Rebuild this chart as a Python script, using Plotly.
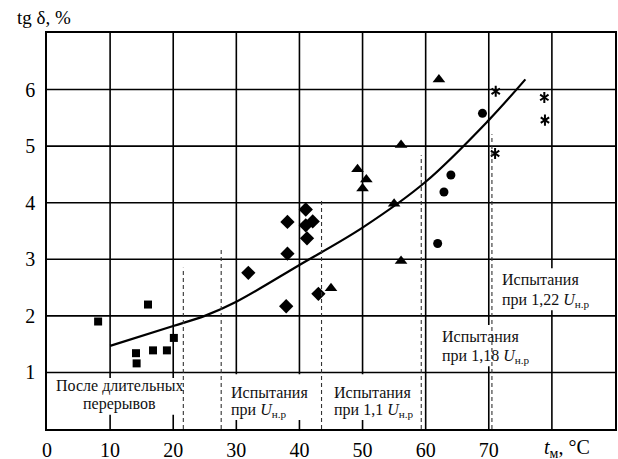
import plotly.graph_objects as go

# --- data ---
sq_x = [8.1, 16.0, 14.1, 14.2, 16.8, 19.0, 20.1]
sq_y = [1.90, 2.20, 1.34, 1.16, 1.39, 1.39, 1.61]

dm_x = [31.9, 37.9, 38.1, 38.1, 41.0, 42.1, 41.0, 41.2, 43.0]
dm_y = [2.76, 2.17, 3.10, 3.66, 3.88, 3.67, 3.60, 3.37, 2.39]

tr_x = [45.0, 49.2, 50.6, 50.0, 55.0, 56.1, 56.1, 62.1]
tr_y = [2.49, 4.59, 4.41, 4.25, 3.98, 5.02, 2.97, 6.18]

ci_x = [61.9, 62.9, 64.0, 69.0]
ci_y = [3.28, 4.19, 4.49, 5.58]

st_x = [71.1, 71.0, 78.8, 78.9]
st_y = [5.97, 4.87, 5.86, 5.46]

curve_x = [10, 20, 25, 30, 40, 50, 60, 70, 75.8]
curve_y = [1.47, 1.82, 2.0, 2.25, 2.90, 3.56, 4.37, 5.46, 6.18]

# dashed boundaries: x position and top value
dash_x = [21.6, 27.6, 43.5, 59.3, 70.5]
dash_top = [2.85, 3.2, 4.06, 4.84, 5.21]

x_ticks = [0, 10, 20, 30, 40, 50, 60, 70]
y_ticks = [1, 2, 3, 4, 5, 6]
x_grid = [10, 20, 30, 40, 50, 60, 70, 80]
y_grid = [1, 2, 3, 4, 5, 6]

FONT = "Liberation Serif"

fig = go.Figure()

mk = dict(color="black")
fig.add_trace(go.Scatter(x=curve_x, y=curve_y, mode="lines",
                         line=dict(color="black", width=2.2, shape="spline"),
                         showlegend=False, hoverinfo="skip"))
fig.add_trace(go.Scatter(x=sq_x, y=sq_y, mode="markers",
                         marker=dict(symbol="square", size=8, **mk), showlegend=False))
fig.add_trace(go.Scatter(x=dm_x, y=dm_y, mode="markers",
                         marker=dict(symbol="diamond", size=11, **mk), showlegend=False))
fig.add_trace(go.Scatter(x=tr_x, y=tr_y, mode="markers",
                         marker=dict(symbol="triangle-up", size=11, **mk), showlegend=False))
fig.add_trace(go.Scatter(x=ci_x, y=ci_y, mode="markers",
                         marker=dict(symbol="circle", size=9, **mk), showlegend=False))
for sym in ["y-up-open", "y-down-open"]:
    fig.add_trace(go.Scatter(x=st_x, y=st_y, mode="markers",
                             marker=dict(symbol=sym, size=7, color="black",
                                         line=dict(color="black", width=2)),
                             showlegend=False))

shapes = []
# grid lines drawn as shapes (below everything)
for gx in x_grid:
    shapes.append(dict(type="line", xref="x", yref="y", x0=gx, x1=gx, y0=0, y1=7,
                       line=dict(color="black", width=1.6), layer="below"))
for gy in y_grid:
    shapes.append(dict(type="line", xref="x", yref="y", x0=0, x1=90, y0=gy, y1=gy,
                       line=dict(color="black", width=1.6), layer="below"))
# white boxes behind labels
boxes = [(1.3, 21.5, 0.25, 0.90), (29.2, 40.6, 0.16, 0.97), (43.7, 59.0, 0.16, 0.97),
         (61.6, 76.7, 1.11, 1.84), (71.3, 86.1, 2.10, 2.84)]
for x0, x1, y0, y1 in boxes:
    shapes.append(dict(type="rect", xref="x", yref="y", x0=x0, x1=x1, y0=y0, y1=y1,
                       fillcolor="white", line=dict(width=0), layer="below"))
# dashed boundaries
for dx, dt in zip(dash_x, dash_top):
    shapes.append(dict(type="line", xref="x", yref="y", x0=dx, x1=dx, y0=0, y1=dt,
                       line=dict(color="#333333", width=1.1, dash="4px,3px"), layer="above"))

ann = []
def txt(x, y, s, anchor="left"):
    ann.append(dict(x=x, y=y, xref="x", yref="y", text=s, showarrow=False,
                    xanchor=anchor, yanchor="middle",
                    font=dict(family=FONT, size=16, color="#111")))

U = "<i>U</i><sub>н.р</sub>"
txt(11.5, 0.765, "После длительных", "center")
txt(11.5, 0.45, "перерывов", "center")
txt(28.9, 0.648, "Испытания")
txt(28.9, 0.32, "при " + U)
txt(45.2, 0.648, "Испытания")
txt(45.2, 0.32, "при 1,1 " + U)
txt(62.2, 1.63, "Испытания")
txt(62.2, 1.29, "при 1,18 " + U)
txt(71.8, 2.645, "Испытания")
txt(71.8, 2.27, "при 1,22 " + U)

ann.append(dict(x=82.4, y=-0.05, xref="x", yref="paper", text="<i>t</i><sub>м</sub>, °C",
                showarrow=False, xanchor="center", yanchor="middle",
                font=dict(family=FONT, size=20, color="black")))
ann.append(dict(x=-0.056, y=1.038, xref="paper", yref="paper", text="tg δ, %",
                showarrow=False, xanchor="left", yanchor="middle",
                font=dict(family=FONT, size=19, color="black")))

fig.update_layout(
    template="none",
    width=618, height=459,
    margin=dict(l=47, r=3, t=33, b=30, autoexpand=False),
    paper_bgcolor="white", plot_bgcolor="white",
    shapes=shapes, annotations=ann,
    font=dict(family=FONT, size=20, color="black"),
    xaxis=dict(range=[0, 90], tickvals=x_ticks, showgrid=False, zeroline=False,
               automargin=False,
               showline=True, mirror=True, linecolor="black", linewidth=1.6,
               ticks="", ticklabelstandoff=2, tickfont=dict(family=FONT, size=20)),
    yaxis=dict(range=[0, 7], tickvals=y_ticks, showgrid=False, zeroline=False,
               automargin=False,
               showline=True, mirror=True, linecolor="black", linewidth=1.6,
               ticks="", ticklabelstandoff=6, tickfont=dict(family=FONT, size=20)),
)

fig.write_html("out.html", config={"displayModeBar": False},
               post_script="document.body.style.margin='0';document.body.style.padding='0';")
